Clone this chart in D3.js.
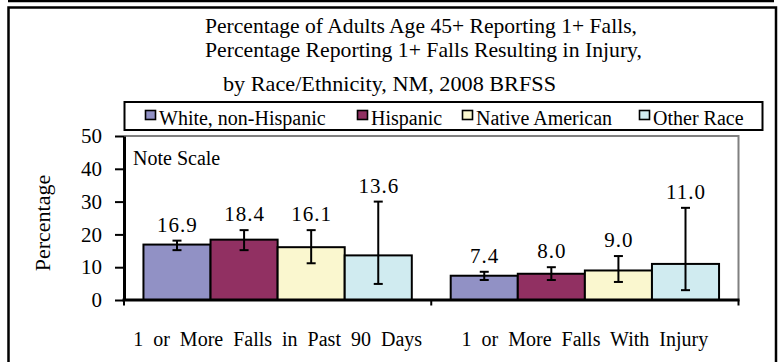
<!DOCTYPE html>
<html>
<head>
<meta charset="utf-8">
<script src="https://cdn.jsdelivr.net/npm/d3@7"></script>
<style>
  html, body { margin: 0; padding: 0; background: #fff; }
  svg { display: block; }
  text { font-family: "Liberation Serif", "Times New Roman", serif; fill: #000; }
</style>
</head>
<body>
<svg id="chart" width="784" height="362"></svg>
<script>
// ---------- data ----------
const titleLines = [
  "Percentage of Adults Age 45+ Reporting 1+ Falls,",
  "Percentage Reporting 1+ Falls Resulting in Injury,",
  "by Race/Ethnicity, NM, 2008 BRFSS"
];
const categories = ["1 or More Falls in Past 90 Days", "1 or More Falls With Injury"];
const series = ["White, non-Hispanic", "Hispanic", "Native American", "Other Race"];
const seriesColors = ["#9191C5", "#913062", "#FAF7CF", "#D0EBF0"];
const whiteNH = [16.9, 7.4];
const hispanic = [18.4, 8.0];
const nativeAm = [16.1, 9.0];
const otherRace = [13.6, 11.0];
const ciLow  = [[15.2, 6.1], [15.2, 6.1], [11.2, 5.5], [4.9, 3.0]];
const ciHigh = [[18.1, 8.6], [21.3, 10.0], [21.3, 13.4], [30.0, 28.1]];
const yTicks = [0, 10, 20, 30, 40, 50];
const yTitle = "Percentage";
const note = "Note Scale";

// ---------- layout ----------
(function draw() {
const svg = d3.select("#chart");
svg.append("rect").attr("width", 784).attr("height", 362).attr("fill", "#fff");

// top rule and frame
svg.append("line").attr("x1", 8).attr("x2", 774).attr("y1", 1).attr("y2", 1)
  .attr("stroke", "#000").attr("stroke-width", 2.5);
svg.append("path").attr("d", "M8.5,370 V7.5 H776 V370")
  .attr("fill", "none").attr("stroke", "#000").attr("stroke-width", 2.5);

// title
const titleSpec = [
  { x: 205, y: 33, w: 432 },
  { x: 205, y: 57, w: 437 },
  { x: 223, y: 91, w: 333 }
];
svg.selectAll("text.title").data(titleLines).join("text")
  .attr("class", "title")
  .attr("x", (d, i) => titleSpec[i].x)
  .attr("y", (d, i) => titleSpec[i].y)
  .attr("font-size", 21)
  .attr("textLength", (d, i) => titleSpec[i].w)
  .attr("lengthAdjust", "spacingAndGlyphs")
  .text(d => d);

// legend
svg.append("rect").attr("x", 124.5).attr("y", 102).attr("width", 638).attr("height", 28)
  .attr("fill", "#fff").attr("stroke", "#000").attr("stroke-width", 2);
const legendX = [145, 357, 462, 639];
const lg = svg.selectAll("g.leg").data(series).join("g").attr("class", "leg")
  .attr("transform", (d, i) => `translate(${legendX[i]},0)`);
lg.append("rect").attr("x", 0.5).attr("y", 110.5).attr("width", 10).attr("height", 9)
  .attr("fill", (d, i) => seriesColors[i]).attr("stroke", "#000").attr("stroke-width", 1.6);
lg.append("text").attr("x", 14).attr("y", 125).attr("font-size", 20).text(d => d);

// plot area
const pLeft = 124, pRight = 738.5, pTop = 136, pBottom = 300;
const y = d3.scaleLinear().domain([0, 50]).range([pBottom, pTop]);
const x0 = d3.scaleBand().domain(categories).range([pLeft, pRight]).paddingInner(0).paddingOuter(0);
const x1 = d3.scaleBand().domain(series).range([0, x0.bandwidth()]).paddingInner(0).paddingOuter(0.29);

// gray plot border (top & right)
svg.append("path").attr("d", `M${pLeft},${pTop} H${pRight} V${pBottom}`)
  .attr("fill", "none").attr("stroke", "#808080").attr("stroke-width", 2);

// note
svg.append("text").attr("x", 133).attr("y", 165).attr("font-size", 20).text(note);

// bars
const values = [whiteNH, hispanic, nativeAm, otherRace];
const rows = [];
categories.forEach((c, ci) => {
  series.forEach((s, si) => {
    rows.push({ c, s, si, v: values[si][ci], lo: ciLow[si][ci], hi: ciHigh[si][ci] });
  });
});
const g = svg.append("g");
g.selectAll("rect.bar").data(rows).join("rect").attr("class", "bar")
  .attr("x", d => x0(d.c) + x1(d.s))
  .attr("width", x1.bandwidth())
  .attr("y", d => y(d.v))
  .attr("height", d => y(0) - y(d.v))
  .attr("fill", d => seriesColors[d.si])
  .attr("stroke", "#000").attr("stroke-width", 2);

// error bars
const eb = g.selectAll("g.err").data(rows).join("g").attr("class", "err")
  .attr("transform", d => `translate(${x0(d.c) + x1(d.s) + x1.bandwidth() / 2},0)`);
eb.append("line").attr("y1", d => y(d.lo)).attr("y2", d => y(d.hi))
  .attr("stroke", "#000").attr("stroke-width", 2);
eb.append("line").attr("x1", -4.5).attr("x2", 4.5).attr("y1", d => y(d.hi)).attr("y2", d => y(d.hi))
  .attr("stroke", "#000").attr("stroke-width", 2);
eb.append("line").attr("x1", -4.5).attr("x2", 4.5).attr("y1", d => y(d.lo)).attr("y2", d => y(d.lo))
  .attr("stroke", "#000").attr("stroke-width", 2);

// value labels
g.selectAll("text.val").data(rows).join("text").attr("class", "val")
  .attr("x", d => x0(d.c) + x1(d.s) + x1.bandwidth() / 2 + 0.5)
  .attr("y", d => y(d.hi) - 9)
  .attr("text-anchor", "middle")
  .attr("font-size", 21)
  .attr("letter-spacing", 1)
  .text(d => d.v.toFixed(1));

// y axis
const yAxis = svg.append("g").attr("transform", `translate(${pLeft},0)`)
  .call(d3.axisLeft(y).tickValues(yTicks).tickSize(9).tickSizeOuter(0).tickPadding(13).tickFormat(d3.format("d")));
yAxis.select(".domain").attr("stroke", "#000").attr("stroke-width", 3);
yAxis.selectAll(".tick line").attr("stroke", "#000").attr("stroke-width", 2);
yAxis.selectAll(".tick text").attr("font-size", 21).attr("font-family", "Liberation Serif, serif").attr("fill", "#000");

// x axis
const xAxis = svg.append("g").attr("transform", `translate(0,${pBottom})`)
  .call(d3.axisBottom(x0).tickSize(0).tickPadding(31.5).tickSizeOuter(0));
xAxis.select(".domain").remove();
xAxis.selectAll(".tick text").attr("font-size", 20).attr("font-family", "Liberation Serif, serif")
  .attr("fill", "#000").attr("word-spacing", 5);
const bounds = [x0.range()[0], ...categories.map(c => x0(c) + x0.bandwidth())];
svg.append("line").attr("x1", pLeft - 1.5).attr("x2", pRight + 1).attr("y1", pBottom).attr("y2", pBottom)
  .attr("stroke", "#000").attr("stroke-width", 3);
svg.selectAll("line.xb").data(bounds).join("line").attr("class", "xb")
  .attr("x1", d => d).attr("x2", d => d).attr("y1", pBottom).attr("y2", pBottom + 5.5)
  .attr("stroke", "#000").attr("stroke-width", 2);

// y title
svg.append("text").attr("transform", "translate(50,223) rotate(-90)")
  .attr("text-anchor", "middle").attr("font-size", 22).text(yTitle);
})();
</script>
</body>
</html>
